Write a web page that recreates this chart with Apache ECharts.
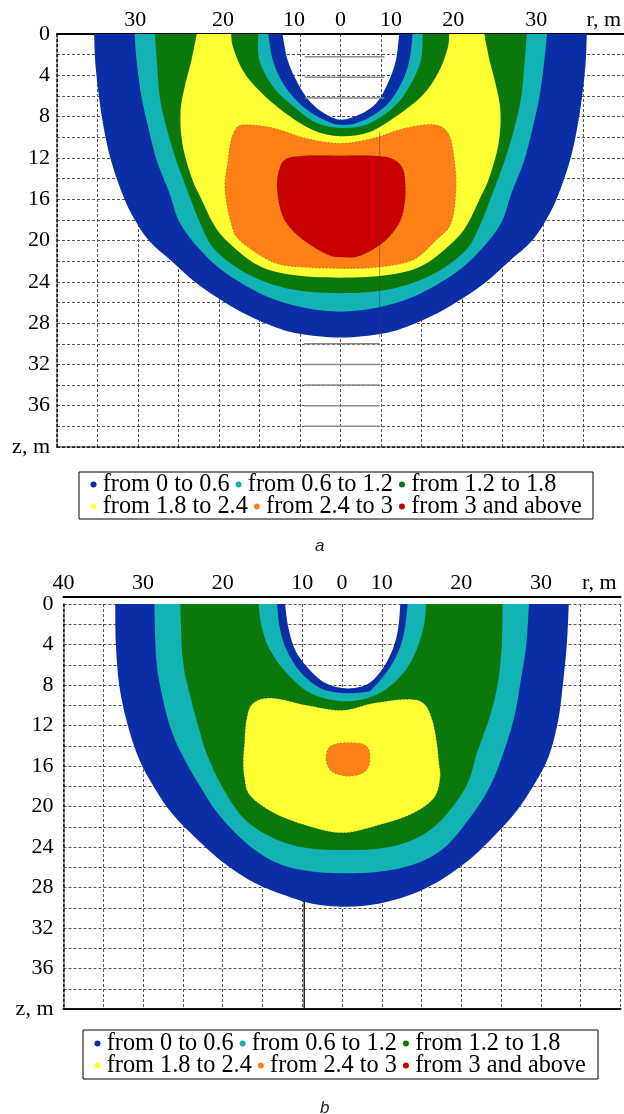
<!DOCTYPE html>
<html><head><meta charset="utf-8">
<script src="https://cdn.jsdelivr.net/npm/echarts/dist/echarts.min.js"></script>
<style>html,body{margin:0;padding:0;background:#fff}#c{width:624px;height:1114px}</style>
</head><body><div id="c"></div>
<script>
// ---------- legend / levels ----------
const levelNames = ['from 0 to 0.6', 'from 0.6 to 1.2', 'from 1.2 to 1.8', 'from 1.8 to 2.4', 'from 2.4 to 3', 'from 3 and above'];

// ---------- tick labels ----------
const rTickValuesA = [-30.4, -17.4, -6.9, 0, 7.5, 16.7, 29, 39];
const rTickTextA = ['30', '20', '10', '0', '10', '20', '30', 'r, m'];
const rTickValuesB = [-42, -30, -18, -6, 0, 6, 18, 30, 38.8];
const rTickTextB = ['40', '30', '20', '10', '0', '10', '20', '30', 'r, m'];
const zTickValues = [0, 4, 8, 12, 16, 20, 24, 28, 32, 36, 40];
const zTickText = ['0', '4', '8', '12', '16', '20', '24', '28', '32', '36', 'z, m'];

// ---------- chart a contours [r, z] ----------
const aBlueOuter = [[-36.5,0],[-36.3,3],[-35.8,6],[-35.1,9],[-34.1,12],[-32.6,15],[-30.9,17.5],[-28.4,20],[-25,22],[-21.6,24],[-18.1,25.6],[-14.5,27],[-10.4,28.2],[-6.3,29],[0,29.4],[6.3,29],[10.4,28.2],[14.5,27],[18.1,25.6],[21.6,24],[25,22],[28.4,20],[30.9,17.5],[32.6,15],[34.1,12],[35.1,9],[35.8,6],[36.3,3],[36.5,0]];
const aCyanOuter = [[-30.5,0],[-30.2,2.6],[-29.5,6],[-28.5,9],[-27.2,12.3],[-25.4,15.3],[-23.8,18.3],[-20.8,20.9],[-16.9,23.2],[-11,25.4],[-5.5,26.5],[0,26.9],[5.5,26.5],[11,25.4],[16.9,23.2],[20.8,20.9],[23.8,18.3],[25.4,15.3],[27.2,12.3],[28.5,9],[29.5,6],[30.2,2.6],[30.6,0]];
const aGreenOuter = [[-27.5,0],[-27.2,2.6],[-26.8,6],[-25.8,9],[-24.3,12.3],[-22.6,15.3],[-20.8,18.3],[-18.6,20.9],[-13.9,23.2],[-7.5,24.7],[0,25.1],[7.5,24.7],[13.9,23.2],[18.6,20.9],[20.8,18.3],[22.6,15.3],[24.3,12.3],[25.8,9],[26.8,6],[27.3,2.6],[27.6,0]];
const aYellowOuter = [[-21.3,0],[-22.1,2.6],[-23,4.9],[-23.7,7.5],[-23.4,10.7],[-22,14],[-20.6,16],[-18.9,18.3],[-16.9,20],[-12.5,22.3],[-7.5,23.3],[0,23.6],[7.5,23.3],[12.5,22.3],[16.9,20],[18.9,18.3],[20.6,16],[22,14],[23.4,10.7],[23.7,7.5],[23,4.9],[22.1,2.6],[21.3,0]];
const aOrange = [[-15.4,9.1],[-14,8.8],[-10,9.1],[-5.1,10.1],[0,10.6],[4.8,10.1],[9.7,9.1],[14,8.8],[16.1,9.8],[16.9,12.4],[17.1,15.1],[16.4,18.3],[14.1,20],[10.7,21.9],[5.3,22.6],[0,22.7],[-5.1,22.6],[-10,22.1],[-14.9,20],[-16.2,18.3],[-17.1,15.1],[-16.7,12.4],[-16.2,10.3]];
const aRed = [[-8,12.1],[-5.1,11.8],[0,11.8],[4.8,11.8],[7.7,12.1],[9.2,13],[9.6,14.6],[9.5,16.4],[8.7,18.3],[6.3,20.2],[2.8,21.5],[0,21.6],[-2.1,21.3],[-5.6,19.9],[-8,18.3],[-9,16.7],[-9.4,14.6],[-9,13]];
const aHoleWhite = [[-8.6,0],[-7.8,2.6],[-6.3,4.8],[-4.6,6.5],[-2.6,7.6],[0,8.3],[2.8,7.8],[5.3,6.7],[7,4.8],[8.2,2.6],[8.7,0]];
const aHoleBlue = [[-10.7,0],[-10,2.6],[-8.5,4.8],[-6.1,6.7],[-3.1,8.1],[0,8.8],[3.3,8.4],[6.8,6.9],[9,4.8],[10.2,2.6],[10.7,0]];
const aHoleCyan = [[-12.2,0],[-12,2.6],[-10,5.1],[-7,7],[-3.6,8.6],[0,9.1],[3.8,8.8],[7.7,7.2],[10.2,5.1],[11.9,2.6],[12.2,0]];
const aHoleGreen = [[-16.2,0],[-15.9,1.3],[-14.4,3.6],[-12,5.5],[-8.5,7.5],[-4.1,9.3],[0,9.9],[4.3,9.5],[8.2,8],[12.2,5.9],[14.6,3.6],[15.9,1.3],[16.1,0]];
// grey scan lines of figure a: [r from, r to, z]
const aGreyLines = [[-5.3,6.5,2.2],[-5.3,6.5,4.2],[-5.3,6.5,6.2],[-5.4,5.8,30],[-5.4,5.8,32],[-5.4,5.8,34],[-5.4,5.8,36],[-5.4,5.8,38]];
// vertical seam lines: [r, z from, z to]
const aSeam = [[5.8, 9.5, 29.4]];

// ---------- chart b contours [r, z] ----------
const bBlueOuter = [[-34.2,0],[-34.1,4],[-33.6,8],[-32.5,11.5],[-30.8,15],[-28.6,17.8],[-25.5,20.8],[-20.3,24.2],[-16.5,26.2],[-13,27.6],[-8.5,28.8],[-4.5,29.6],[0.5,29.9],[5.5,29.6],[10,28.8],[14,27.6],[17.3,26.2],[21,24.2],[25.9,20.8],[29,17.8],[31.2,15],[32.6,11.5],[33.3,8],[33.9,4],[34.2,0]];
const bCyanOuter = [[-28.3,0],[-28,5.5],[-27.2,8.8],[-26,12],[-24.2,14.8],[-21.5,17.9],[-18.2,21.1],[-12.9,24.4],[-7.4,26.1],[0.7,26.6],[8.8,26.1],[14.8,24.4],[19.3,21.1],[22.4,17.9],[24.4,14.6],[26,11.1],[26.9,7.8],[27.8,4],[28.2,0]];
const bGreenOuter = [[-24.4,0],[-24,5.5],[-23,8.8],[-21.7,12],[-20.4,14.8],[-18.2,17.9],[-14.9,21.1],[-10.4,23.1],[-5.3,24.1],[0.5,24.3],[6.2,24.1],[11.3,23.1],[15.3,21.1],[18.8,17.9],[20.4,14.6],[22.3,11.1],[23.5,7.8],[24.1,4],[24.2,0]];
const bYellow = [[-14.4,11.4],[-13.4,9.8],[-10.4,9.3],[-5.3,10],[0,10.5],[4.7,9.8],[9.8,9.4],[12.3,9.8],[13.6,11.4],[14.3,13.7],[14.6,15.6],[14.8,17.2],[13.8,19.2],[10.3,20.8],[5.2,21.9],[0,22.6],[-5.3,21.9],[-10.4,20.6],[-13.9,18.9],[-14.7,17.2],[-14.9,15.6],[-14.7,13.7]];
const bOrange = [[-2.4,15.3],[-2,14.2],[-0.8,13.8],[1,13.7],[3,13.8],[4,14.3],[4.2,15.2],[3.9,16.2],[2.8,16.8],[1,17],[-0.8,16.8],[-1.9,16.3]];
const bRed = [];
const bHoleWhite = [[-8.6,0],[-8.1,2.3],[-7.1,4.5],[-5.3,6.2],[-2.8,7.7],[0,8.3],[2.7,8.2],[4.7,7.5],[6.5,6],[7.8,4.2],[8.5,2.3],[8.8,0]];
const bHoleBlue = [[-9.8,0],[-9.4,2.3],[-8.4,4.5],[-6.3,6.7],[-3.3,8.3],[0,8.8],[3.5,8.7],[4.7,8.3],[7.3,6.2],[8.8,4.2],[9.5,2.3],[9.9,0]];
const bHoleCyan = [[-12.6,0],[-12.1,2.3],[-10.9,4.5],[-8.4,6.8],[-4.8,8.8],[0,9.6],[4.7,9.1],[8.3,7.5],[10.8,5.2],[12.3,2.3],[12.7,0]];
const bSeam = [[-5.7, 29.3, 40]];

// ---------- styling ----------
const COLORS = ['#0b2ea6', '#13b2b4', '#0a780a', '#ffff33', '#ff8016', '#c80000'];
const SERIF = 'Liberation Serif';
const GRIDLINE = {show: true, lineStyle: {color: '#555', width: 1, type: [3, 2]}};

// Catmull-Rom curve through pixel points, as SVG path commands
function curve(px, closed) {
  const n = px.length;
  const P = function (i) { return closed ? px[(i + n) % n] : px[Math.max(0, Math.min(n - 1, i))]; };
  let d = '';
  const last = closed ? n : n - 1;
  for (let i = 0; i < last; i++) {
    const p0 = P(i - 1), p1 = P(i), p2 = P(i + 1), p3 = P(i + 2);
    const c1x = p1[0] + (p2[0] - p0[0]) / 6, c1y = p1[1] + (p2[1] - p0[1]) / 6;
    const c2x = p2[0] - (p3[0] - p1[0]) / 6, c2y = p2[1] - (p3[1] - p1[1]) / 6;
    d += 'C' + c1x.toFixed(2) + ',' + c1y.toFixed(2) + ' ' + c2x.toFixed(2) + ',' + c2y.toFixed(2) + ' ' + p2[0].toFixed(2) + ',' + p2[1].toFixed(2);
  }
  return d;
}

// region: either {outer, hole} (band open at the surface z = 0) or {closed}
function region(name, color, shape, axisIdx, outline) {
  const has = shape.closed ? shape.closed.length > 0 : true;
  return {
    type: 'custom', name: name, coordinateSystem: 'cartesian2d',
    xAxisIndex: axisIdx * 2, yAxisIndex: axisIdx,
    data: has ? [0] : [], itemStyle: {color: color},
    silent: true, animation: false, clip: false,
    renderItem: function (params, api) {
      const toPx = function (arr) { return arr.map(function (p) { return api.coord(p); }); };
      let d;
      if (shape.closed) {
        const px = toPx(shape.closed);
        d = 'M' + px[0][0] + ',' + px[0][1] + curve(px, true) + 'Z';
      } else {
        const o = toPx(shape.outer), h = toPx(shape.hole.slice().reverse());
        d = 'M' + o[0][0] + ',' + o[0][1] + curve(o, false) + 'L' + h[0][0] + ',' + h[0][1] + curve(h, false) + 'Z';
      }
      const style = {fill: color};
      if (outline) { style.stroke = 'rgba(70,50,20,0.55)'; style.lineWidth = 1; style.lineDash = [1, 2.5]; }
      return {type: 'path', shape: {pathData: d}, style: style};
    }
  };
}

function hSegments(segs, axisIdx, color, width) {
  return {
    type: 'custom', coordinateSystem: 'cartesian2d', xAxisIndex: axisIdx * 2, yAxisIndex: axisIdx,
    data: segs, silent: true, animation: false, z: 3,
    renderItem: function (params, api) {
      const a = api.coord([api.value(0), api.value(2)]), b = api.coord([api.value(1), api.value(2)]);
      return {type: 'line', shape: {x1: a[0], y1: a[1], x2: b[0], y2: b[1]}, style: {stroke: color, lineWidth: width}};
    }
  };
}
function vSegments(segs, axisIdx, color, width) {
  return {
    type: 'custom', coordinateSystem: 'cartesian2d', xAxisIndex: axisIdx * 2, yAxisIndex: axisIdx,
    data: segs, silent: true, animation: false, z: 3,
    renderItem: function (params, api) {
      const a = api.coord([api.value(0), api.value(1)]), b = api.coord([api.value(0), api.value(2)]);
      return {type: 'line', shape: {x1: a[0], y1: a[1], x2: b[0], y2: b[1]}, style: {stroke: color, lineWidth: width}};
    }
  };
}

function labelFrom(values, texts) {
  return function (v) {
    let best = 0, d = Infinity;
    values.forEach(function (x, i) { if (Math.abs(x - v) < d) { d = Math.abs(x - v); best = i; } });
    return texts[best];
  };
}

const regionsA = [
  {outer: aBlueOuter, hole: aHoleWhite}, {outer: aCyanOuter, hole: aHoleBlue}, {outer: aGreenOuter, hole: aHoleCyan},
  {outer: aYellowOuter, hole: aHoleGreen}, {closed: aOrange}, {closed: aRed}
];
const regionsB = [
  {outer: bBlueOuter, hole: bHoleWhite}, {outer: bCyanOuter, hole: bHoleBlue}, {outer: bGreenOuter, hole: bHoleCyan},
  {closed: bYellow}, {closed: bOrange}, {closed: bRed}
];

const series = [];
regionsA.forEach(function (s, i) { series.push(region(levelNames[i], COLORS[i], s, 0, i >= 4)); });
regionsB.forEach(function (s, i) { series.push(region(levelNames[i], COLORS[i], s, 1, i >= 3)); });
series.push(hSegments(aGreyLines, 0, '#8a8a8a', 1.5));
series.push(vSegments(aSeam, 0, 'rgba(60,60,60,0.5)', 1));
series.push(vSegments(bSeam, 1, '#222', 1.5));

function topAxis(grid, vals, texts) {
  return {
    gridIndex: grid, type: 'value', position: 'top', min: -42, max: 42, interval: 6,
    axisLine: {show: true, onZero: false, lineStyle: {color: '#000', width: 2}},
    axisTick: {show: false},
    axisLabel: {customValues: vals, formatter: labelFrom(vals, texts), fontFamily: SERIF, fontSize: 22, color: '#000', margin: 3},
    splitLine: GRIDLINE
  };
}
function bottomAxis(grid, dashed) {
  return {
    gridIndex: grid, type: 'value', position: 'bottom', min: -42, max: 42, interval: 6,
    axisLine: {show: true, onZero: false, lineStyle: {color: '#111', width: dashed ? 1.5 : 2, type: dashed ? [3, 2] : 'solid'}},
    axisTick: {show: false}, axisLabel: {show: false}, splitLine: {show: false}
  };
}
function leftAxis(grid, margin) {
  return {
    gridIndex: grid, type: 'value', inverse: true, min: 0, max: 40, interval: 2,
    axisLine: {show: true, onZero: false, lineStyle: {color: '#111', width: 1.5, type: [3, 2]}},
    axisTick: {show: false},
    axisLabel: {customValues: zTickValues, formatter: labelFrom(zTickValues, zTickText), fontFamily: SERIF, fontSize: 22, color: '#000', margin: margin},
    splitLine: GRIDLINE
  };
}

// one legend component per legend row
function legendRow(names, left, top) {
  return {
    data: names, left: left, top: top, orient: 'horizontal',
    icon: 'circle', itemWidth: 8.5, itemHeight: 6, itemGap: 6, padding: 0,
    selectedMode: false,
    textStyle: {fontFamily: SERIF, fontSize: 24.3, color: '#000'}
  };
}
function legendFrame(left, top, width, height) {
  return {type: 'rect', left: left, top: top, z: 0, shape: {width: width, height: height}, style: {fill: '#fff', stroke: '#000', lineWidth: 1}};
}

const option = {
  animation: false,
  backgroundColor: '#fff',
  title: [
    {text: 'a', left: 310, top: 533, textStyle: {fontFamily: 'Liberation Sans', fontStyle: 'italic', fontWeight: 'normal', fontSize: 17, color: '#222'}},
    {text: 'b', left: 315, top: 1095, textStyle: {fontFamily: 'Liberation Sans', fontStyle: 'italic', fontWeight: 'normal', fontSize: 17, color: '#222'}}
  ],
  graphic: [legendFrame(78.5, 471.5, 514, 47), legendFrame(82.5, 1029.5, 515, 49)],
  grid: [
    {left: 57, top: 34, width: 568, height: 413},
    {left: 63.5, top: 604, width: 557, height: 405}
  ],
  xAxis: [
    topAxis(0, rTickValuesA, rTickTextA), bottomAxis(0, true),
    Object.assign(topAxis(1, rTickValuesB, rTickTextB), {offset: 7}), bottomAxis(1, false)
  ],
  yAxis: [leftAxis(0, 7), leftAxis(1, 10)],
  legend: [
    legendRow(levelNames.slice(0, 3), 90.5, 472.5), legendRow(levelNames.slice(3), 90.5, 494.5),
    legendRow(levelNames.slice(0, 3), 94.5, 1031.5), legendRow(levelNames.slice(3), 94.5, 1053.5)
  ],
  series: series
};

const chart = echarts.init(document.getElementById('c'), null, {renderer: 'canvas'});
chart.setOption(option);
</script></body></html>
